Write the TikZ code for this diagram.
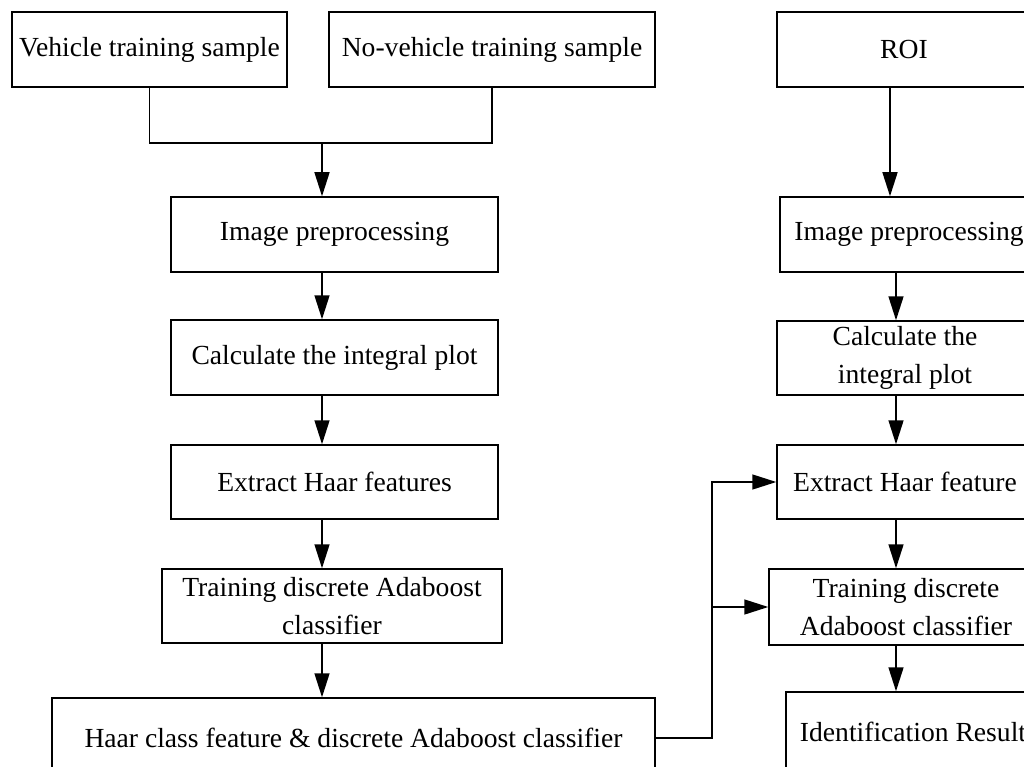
\documentclass[tikz,border=0pt]{standalone}
\usepackage{fontspec}
\setmainfont{Liberation Serif}
\usetikzlibrary{arrows.meta}
\begin{document}
\begin{tikzpicture}[x=1pt,y=-1pt,
  box/.style={draw,line width=1.5pt,inner sep=2pt,align=center,
    font=\fontsize{27.6}{38}\selectfont},
  ln/.style={line width=1.5pt},
  arr/.style={line width=1.5pt,-{Triangle[length=24pt,width=15pt]}}]
\useasboundingbox (0,0) rectangle (1024,767);
\clip (0,0) rectangle (1024,767);
% left column
\node[box,minimum width=275pt,minimum height=75pt] (v1) at (149.5,49.5) {Vehicle training sample};
\node[box,minimum width=326pt,minimum height=75pt] (v2) at (492,49.5) {No-vehicle training sample};
\node[box,minimum width=327pt,minimum height=75pt] (ip) at (334.5,234.5) {Image preprocessing};
\node[box,minimum width=327pt,minimum height=75pt] (cip) at (334.5,357.5) {Calculate the integral plot};
\node[box,minimum width=327pt,minimum height=74pt] (eh) at (334.5,482) {Extract Haar features};
\node[box,minimum width=340pt,minimum height=74pt] (td) at (332,606) {Training discrete Adaboost\\classifier};
\node[box,minimum width=603pt,minimum height=80pt] (hc) at (353.5,738) {Haar class feature \& discrete Adaboost classifier};
% right column
\node[box,minimum width=254pt,minimum height=75pt] (roi) at (904,49.5) {ROI};
\node[box,minimum width=258pt,minimum height=75pt] (rip) at (909,234.5) {Image preprocessing};
\node[box,minimum width=256pt,minimum height=74pt] (rcip) at (905,358) {Calculate the\\integral plot};
\node[box,minimum width=256pt,minimum height=74pt] (reh) at (905,482) {Extract Haar feature};
\node[box,minimum width=274pt,minimum height=76pt] (rtd) at (906,607) {Training discrete\\Adaboost classifier};
\node[box,minimum width=254pt,minimum height=80pt] (rid) at (913,732) {Identification Result};
% connectors, left
\coordinate (lx) at (322,0);
\coordinate (m) at (322,143);
\draw[ln] (v1.south) |- (m) -| (v2.south);
\draw[arr] (m) -- (lx |- ip.north);
\draw[arr] (lx |- ip.south) -- (lx |- cip.north);
\draw[arr] (lx |- cip.south) -- (lx |- eh.north);
\draw[arr] (lx |- eh.south) -- (lx |- td.north);
\draw[arr] (lx |- td.south) -- (lx |- hc.north);
% connectors, right
\coordinate (rx) at (890,0);
\coordinate (ry) at (896,0);
\draw[arr] (rx |- roi.south) -- (rx |- rip.north);
\draw[arr] (ry |- rip.south) -- (ry |- rcip.north);
\draw[arr] (ry |- rcip.south) -- (ry |- reh.north);
\draw[arr] (ry |- reh.south) -- (ry |- rtd.north);
\draw[arr] (ry |- rtd.south) -- (ry |- rid.north);
% cross connector
\coordinate (bx) at (712,0);
\draw[arr] (hc.east) -- (bx |- hc.east) |- (reh.west);
\draw[arr] (bx |- rtd.west) -- (rtd.west);
\end{tikzpicture}
\end{document}
